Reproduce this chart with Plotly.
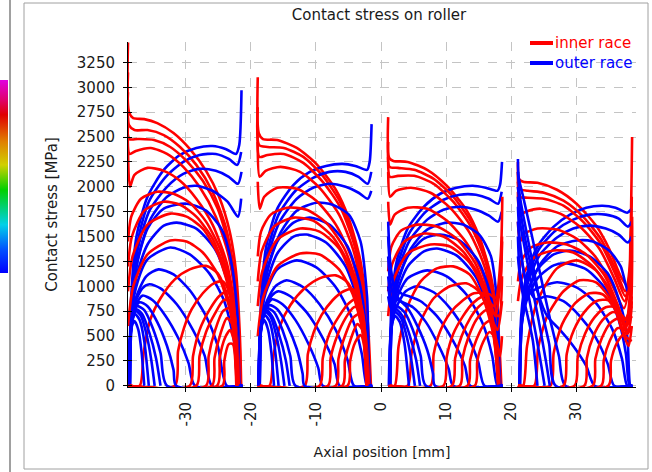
import plotly.graph_objects as go

# ---------------- data (local axial position u [mm] from roller end, stress [MPa]) -------------
roller_left = [-38.9, -18.95, 1.1, 21.05]

inner_roller1 = [
    [(0,3450),(0.15,2750),(0.8,2690),(2.5,2680),(4.5,2640),(7,2540),(9.5,2380),(12,2160),(14,1900),(15.6,1560),(16.6,1150),(17.2,500),(17.4,0)],
    [(0,3150),(0.15,2620),(1,2570),(3,2570),(5.5,2520),(8,2400),(10.5,2220),(13,1950),(15,1600),(16.3,1150),(17.1,500),(17.35,0)],
    [(0,2950),(0.2,2480),(1.5,2480),(4,2470),(6.5,2400),(9,2260),(11.5,2060),(13.8,1780),(15.6,1380),(16.8,800),(17.3,0)],
    [(0,2700),(0.25,2330),(1.2,2360),(3.5,2390),(6,2330),(8.5,2200),(11,2000),(13.5,1700),(15.5,1300),(16.7,750),(17.2,0)],
    [(0,2350),(0.3,2000),(1,2120),(3,2190),(5.5,2160),(8,2060),(10.5,1880),(13,1620),(15.2,1230),(16.6,700),(17.15,0)],
    [(0,1450),(0.5,1700),(2,1880),(4.5,1950),(7,1930),(9.5,1840),(12,1650),(14.3,1350),(15.9,950),(16.8,450),(17.1,0)],
    [(0,1200),(0.6,1500),(2.5,1760),(5.5,1850),(8,1820),(10.5,1700),(13,1480),(15,1150),(16.3,750),(17.05,0)],
    [(0,950),(0.7,1300),(3,1620),(6.5,1730),(9,1700),(11.5,1580),(13.8,1330),(15.6,950),(16.6,500),(17,0)],
    [(0,600),(0.8,1000),(3,1320),(6.5,1460),(9,1450),(11.5,1340),(13.8,1120),(15.6,780),(16.5,400),(16.95,0)],
    [(0,0),(1.8,0),(2.4,330),(3.4,660),(5,880),(7.2,1070),(9.5,1170),(12,1205),(13.8,1130),(15.3,900),(16.3,520),(16.9,0)],
    [(0,0),(7.2,0),(7.7,350),(8.6,580),(9.8,770),(11.5,930),(13.2,1030),(14.6,1050),(15.6,930),(16.4,560),(16.85,0)],
    [(0,0),(9.5,0),(10,300),(11,560),(12.5,760),(14,900),(15.3,950),(16.2,780),(16.8,0)],
    [(0,0),(10.5,0),(11,300),(12,540),(13.4,730),(14.7,860),(15.6,860),(16.4,600),(16.8,0)],
    [(0,0),(12,0),(12.4,300),(13.4,560),(14.6,750),(15.6,780),(16.3,550),(16.8,0)],
    [(0,0),(12.9,0),(13.3,280),(14.2,520),(15.2,680),(16,620),(16.75,0)],
    [(0,0),(13.7,0),(14.1,280),(14.9,480),(15.7,560),(16.3,450),(16.7,0)],
    [(0,0),(14.5,0),(14.8,250),(15.5,420),(16.1,420),(16.65,0)],
]
outer_roller1 = [
    [(0.2,0),(0.5,900),(1.3,1500),(3,1900),(5.5,2170),(8,2320),(10.5,2390),(13,2410),(15,2380),(16.6,2330),(17.1,2420),(17.45,2970)],
    [(0.3,0),(0.6,850),(1.5,1450),(3.2,1850),(5.8,2100),(8.5,2250),(11,2320),(13.5,2330),(15.5,2280),(16.8,2220),(17.4,2350)],
    [(0.3,0),(0.6,800),(1.5,1370),(3.3,1760),(6,2000),(8.5,2130),(11,2180),(13.5,2160),(15.5,2100),(16.9,2030),(17.45,2150)],
    [(0.3,0),(0.6,760),(1.6,1300),(3.5,1680),(6,1900),(8.5,1990),(10.5,2010),(13,1960),(15.3,1850),(16.9,1700),(17.4,1880)],
    [(0.2,0),(0.5,750),(1.3,1200),(3,1580),(5.5,1780),(9,1830),(12,1760),(14.5,1560),(16,1200),(16.9,650),(17.3,0),(17.6,0)],
    [(0.2,0),(0.5,700),(1.3,1100),(3,1420),(5.5,1610),(7.5,1640),(10.5,1580),(13.5,1360),(15.5,1000),(16.7,500),(17.2,0),(17.6,0)],
    [(0.2,0),(0.45,650),(1.2,980),(3,1270),(6.5,1390),(9.5,1320),(12.5,1130),(14.8,850),(16.3,450),(17,0),(17.6,0)],
    [(0.2,0),(0.45,600),(1.2,880),(2.8,1100),(4.7,1170),(7,1120),(9.5,960),(12,700),(13.8,400),(15.2,0),(17.6,0)],
    [(0.2,0),(0.45,580),(1.1,830),(2.2,980),(3.3,1020),(5,980),(7.5,820),(10,560),(11.8,300),(12.9,0),(17.6,0)],
    [(0.2,0),(0.4,550),(1,780),(2.2,906),(3.8,860),(5.8,700),(7.8,470),(9.3,230),(10.3,0),(17.6,0)],
    [(0.15,0),(0.4,520),(1,760),(1.8,840),(3,800),(4.5,640),(6,400),(7,160),(7.4,0),(17.6,0)],
    [(0.15,0),(0.35,500),(0.8,720),(1.4,800),(2.5,760),(3.8,580),(5,330),(6,0),(17.6,0)],
    [(0.15,0),(0.35,480),(0.8,700),(1.3,770),(2.2,720),(3.3,530),(4.3,280),(5,0)],
    [(0.1,0),(0.3,470),(0.7,680),(1.2,750),(2,700),(2.9,500),(3.6,250),(4.1,0)],
    [(0.1,0),(0.3,450),(0.7,660),(1.1,720),(1.8,660),(2.5,450),(3.2,0)],
    [(0.1,0),(0.3,420),(0.6,600),(1,650),(1.6,560),(2.1,330),(2.5,0)],
]

inner_roller2 = [
    [(0,3100),(0.15,2540),(0.8,2480),(3,2470),(6,2390),(9,2230),(12,1970),(14,1680),(15.8,1250),(16.9,650),(17.4,0)],
    [(0,2800),(0.2,2420),(1.5,2400),(4,2390),(7,2300),(10,2110),(12.8,1830),(15,1430),(16.5,850),(17.3,0)],
    [(0,2600),(0.25,2300),(1.5,2320),(4,2330),(7,2240),(10,2050),(12.8,1780),(15,1380),(16.5,800),(17.25,0)],
    [(0,2450),(0.3,2100),(1.2,2160),(3.5,2200),(6.5,2150),(9.5,1990),(12.5,1720),(14.8,1340),(16.4,780),(17.2,0)],
    [(0,2050),(0.3,1780),(1,1900),(3,1990),(6,1980),(9,1860),(12,1620),(14.5,1270),(16.3,720),(17.15,0)],
    [(0,1300),(0.5,1550),(2,1720),(4.5,1790),(7.5,1770),(10.5,1640),(13.3,1380),(15.3,1000),(16.6,500),(17.1,0)],
    [(0,1050),(0.6,1350),(2.5,1600),(5.5,1690),(8.5,1660),(11.5,1500),(14,1220),(15.8,820),(17.05,0)],
    [(0,800),(0.7,1150),(3,1470),(6.5,1580),(9.5,1550),(12.5,1380),(14.6,1080),(16.2,650),(17,0)],
    [(0,500),(0.8,880),(3,1200),(6.5,1330),(9.5,1320),(12.5,1170),(14.6,920),(16.2,520),(16.95,0)],
    [(0,0),(1.8,0),(2.4,300),(3.4,600),(5,810),(7.2,980),(9.5,1080),(12,1110),(13.8,1040),(15.3,830),(16.3,480),(16.9,0)],
    [(0,0),(7.2,0),(7.7,320),(8.6,540),(9.8,710),(11.5,860),(13.2,950),(14.6,970),(15.6,860),(16.4,520),(16.85,0)],
    [(0,0),(9.5,0),(10,280),(11,520),(12.5,700),(14,830),(15.3,880),(16.2,720),(16.8,0)],
    [(0,0),(10.8,0),(11.2,280),(12.2,500),(13.5,680),(14.8,790),(15.7,790),(16.4,560),(16.8,0)],
    [(0,0),(12,0),(12.4,270),(13.4,500),(14.6,680),(15.6,720),(16.3,510),(16.8,0)],
    [(0,0),(13,0),(13.4,260),(14.3,470),(15.3,620),(16,570),(16.75,0)],
    [(0,0),(13.8,0),(14.2,250),(15,440),(15.8,510),(16.3,420),(16.7,0)],
]
outer_roller2 = [
    [(0.25,0),(0.5,850),(1.3,1400),(3,1780),(5.5,2020),(8,2150),(10.5,2210),(13,2230),(15,2210),(16.8,2170),(17.2,2250),(17.5,2630)],
    [(0.3,0),(0.6,800),(1.5,1350),(3.2,1720),(5.8,1960),(8.5,2090),(11,2150),(13.5,2150),(15.5,2100),(16.9,2030),(17.45,2150)],
    [(0.3,0),(0.6,760),(1.5,1280),(3.3,1640),(6,1880),(8.5,1990),(11,2030),(13.5,2000),(15.5,1940),(16.9,1880),(17.45,1960)],
    [(0.3,0),(0.6,720),(1.6,1200),(3.5,1540),(6,1760),(9,1840),(11.5,1820),(14,1720),(15.8,1450),(16.8,900),(17.35,0),(17.6,0)],
    [(0.25,0),(0.5,700),(1.3,1100),(3,1450),(5.5,1640),(8,1690),(11,1620),(13.8,1400),(15.6,1050),(16.7,550),(17.25,0),(17.6,0)],
    [(0.25,0),(0.5,650),(1.3,1020),(3,1330),(5.5,1500),(7.5,1520),(10.5,1440),(13.5,1200),(15.5,820),(16.6,400),(17.15,0),(17.6,0)],
    [(0.2,0),(0.45,620),(1.2,930),(3,1170),(6,1260),(9,1190),(12,990),(14.5,680),(16,320),(16.8,0),(17.6,0)],
    [(0.2,0),(0.45,580),(1.2,820),(2.7,1000),(4.4,1060),(7,990),(9.5,820),(12,560),(13.8,260),(14.8,0),(17.6,0)],
    [(0.2,0),(0.45,550),(1.1,780),(2.2,910),(3.2,950),(5,900),(7.5,740),(10,480),(11.8,220),(12.6,0),(17.6,0)],
    [(0.2,0),(0.4,530),(1,750),(2.2,870),(3.8,820),(5.8,660),(7.8,420),(9.3,180),(10,0),(17.6,0)],
    [(0.15,0),(0.4,500),(1,730),(1.8,810),(3,770),(4.5,610),(6,370),(6.9,120),(7.2,0),(17.6,0)],
    [(0.15,0),(0.35,480),(0.8,700),(1.4,780),(2.5,740),(3.8,560),(5,300),(5.8,0),(17.6,0)],
    [(0.15,0),(0.35,470),(0.8,690),(1.3,760),(2.2,700),(3.3,510),(4.3,260),(4.9,0)],
    [(0.1,0),(0.3,460),(0.7,670),(1.2,740),(2,690),(2.9,490),(3.6,240),(4.1,0)],
    [(0.1,0),(0.3,440),(0.7,650),(1.1,710),(1.8,650),(2.5,440),(3.2,0)],
    [(0.1,0),(0.3,420),(0.6,600),(1,660),(1.6,560),(2.1,330),(2.5,0)],
]

inner_roller3 = [
    [(0,2700),(0.15,2290),(0.8,2260),(3,2250),(6,2170),(9,2010),(12,1770),(14,1500),(15.8,1100),(16.9,600),(17.4,0)],
    [(0,2450),(0.2,2200),(1.5,2190),(4,2170),(7,2080),(10,1900),(12.8,1640),(15,1280),(16.5,760),(17.3,0)],
    [(0,2300),(0.25,2100),(1.5,2110),(4,2110),(7,2030),(10,1850),(12.8,1590),(15,1240),(16.5,720),(17.25,0)],
    [(0,2150),(0.3,1900),(1.2,1960),(3.5,1990),(6.5,1940),(9.5,1790),(12.5,1540),(14.8,1200),(16.4,700),(17.2,0)],
    [(0,1850),(0.3,1620),(1,1720),(3,1790),(6,1780),(9,1660),(12,1440),(14.5,1130),(16.3,650),(17.15,0)],
    [(0,1150),(0.5,1400),(2,1560),(4.5,1620),(7.5,1600),(10.5,1480),(13.3,1240),(15.3,900),(16.6,450),(17.1,0)],
    [(0,950),(0.6,1220),(2.5,1450),(5.5,1530),(8.5,1500),(11.5,1350),(14,1100),(15.8,740),(17.05,0)],
    [(0,700),(0.7,1040),(3,1330),(6.5,1420),(9.5,1400),(12.5,1240),(14.6,970),(16.2,600),(17,0)],
    [(0,0),(1.0,0),(1.6,400),(3,800),(5,1050),(7.5,1180),(10,1200),(12.5,1120),(14.6,880),(16.2,500),(16.95,0)],
    [(0,0),(3.0,0),(3.6,330),(5,650),(7,880),(9.5,1000),(12,1030),(13.8,960),(15.3,780),(16.3,480),(16.9,0)],
    [(0,0),(6.5,0),(7,320),(8,550),(9.5,730),(11.5,860),(13.2,930),(14.6,930),(15.6,850),(16.5,700),(17.3,1100),(17.5,1500)],
    [(0,0),(8.5,0),(9,290),(10,520),(11.5,700),(13,830),(14.5,900),(15.6,920),(16.5,880),(17.3,1300),(17.55,1900)],
    [(0,0),(9.8,0),(10.3,280),(11.3,500),(12.7,690),(14,800),(15.3,850),(16.3,800),(17.2,1000),(17.5,1450)],
    [(0,0),(11,0),(11.4,270),(12.4,500),(13.6,670),(15,760),(16,740),(17,700),(17.5,1100)],
    [(0,0),(12.2,0),(12.6,260),(13.6,470),(14.8,620),(15.9,660),(16.8,560),(17.5,850)],
    [(0,0),(13.3,0),(13.7,250),(14.6,440),(15.6,540),(16.5,480),(17.2,300),(17.5,500)],
]
outer_roller3 = [
    [(0.25,0),(0.5,800),(1.3,1250),(3,1580),(5.5,1800),(8,1930),(10.5,1990),(13,2010),(15,1990),(16.8,1960),(17.2,2020),(17.5,2250)],
    [(0.3,0),(0.6,760),(1.5,1220),(3.2,1530),(5.8,1750),(8.5,1870),(11,1920),(13.5,1920),(15.5,1880),(16.9,1830),(17.45,1950)],
    [(0.3,0),(0.6,720),(1.5,1150),(3.3,1460),(6,1670),(8.5,1770),(11,1800),(13.5,1770),(15.5,1710),(16.9,1650),(17.45,1750)],
    [(0.3,0),(0.6,680),(1.6,1080),(3.5,1380),(6,1570),(9,1640),(11.5,1620),(14,1520),(15.8,1300),(16.8,800),(17.35,0),(17.6,0)],
    [(0.25,0),(0.5,650),(1.3,1000),(3,1300),(5.5,1480),(8,1520),(11,1460),(13.8,1260),(15.6,950),(16.7,500),(17.25,0),(17.6,0)],
    [(0.25,0),(0.5,620),(1.3,930),(3,1200),(5.5,1350),(7.5,1380),(10.5,1310),(13.5,1090),(15.5,740),(16.6,360),(17.15,0),(17.6,0)],
    [(0.2,0),(0.45,580),(1.2,860),(3,1080),(6,1160),(9,1100),(12,920),(14.5,630),(16,300),(16.8,0),(17.6,0)],
    [(0.2,0),(0.45,550),(1.2,780),(2.7,950),(4.4,1000),(7,940),(9.5,780),(12,530),(13.8,250),(14.8,0),(17.6,0)],
    [(0,1500),(0.3,1200),(1,1000),(2.2,920),(3.2,900),(5,850),(7.5,700),(10,450),(11.8,200),(12.6,0),(17.6,0)],
    [(0,1300),(0.3,1050),(1,880),(2.2,840),(3.8,790),(5.8,640),(7.8,400),(9.3,170),(10,0),(17.6,0)],
    [(0,1650),(0.3,1250),(1,950),(1.8,860),(3,780),(4.5,600),(6,360),(6.9,120),(7.2,0),(17.6,0)],
    [(0,1100),(0.35,900),(0.8,820),(1.4,800),(2.5,740),(3.8,560),(5,300),(5.8,0),(17.6,0)],
    [(0,1000),(0.35,850),(0.8,790),(1.3,770),(2.2,700),(3.3,510),(4.3,260),(4.9,0)],
    [(0,900),(0.3,800),(0.7,760),(1.2,740),(2,680),(2.9,480),(3.6,240),(4.1,0)],
    [(0.1,0),(0.3,450),(0.7,650),(1.1,700),(1.8,640),(2.5,430),(3.2,0)],
]

inner_roller4 = [
    [(0,2250),(0.15,2080),(0.8,2050),(3,2040),(6,1970),(9,1830),(12,1610),(14,1380),(15.8,1100),(16.9,1000),(17.3,1500),(17.55,2500)],
    [(0,2150),(0.2,1980),(1.5,1960),(4,1940),(7,1860),(10,1700),(12.8,1470),(15,1170),(16.5,950),(17.2,1200),(17.5,1900)],
    [(0,2050),(0.25,1900),(1.5,1890),(4,1880),(7,1810),(10,1650),(12.8,1420),(15,1120),(16.5,900),(17.2,1050),(17.5,1600)],
    [(0,1950),(0.3,1720),(1.2,1750),(3.5,1780),(6.5,1730),(9.5,1600),(12.5,1380),(14.8,1080),(16.4,850),(17.5,1350)],
    [(0,1650),(0.3,1450),(1,1530),(3,1580),(6,1570),(9,1480),(12,1290),(14.5,1010),(16.3,780),(17.5,1200)],
    [(0,1050),(0.5,1250),(2,1390),(4.5,1440),(7.5,1420),(10.5,1320),(13.3,1110),(15.3,820),(16.6,600),(17.5,1000)],
    [(0,850),(0.6,1090),(2.5,1290),(5.5,1360),(8.5,1340),(11.5,1200),(14,980),(15.8,700),(17,550),(17.5,850)],
    [(0,0),(0.8,0),(1.4,400),(3,850),(6,1180),(9,1260),(12,1160),(14.6,870),(16.2,560),(17.5,700)],
    [(0,0),(2.5,0),(3.1,380),(4.5,700),(7,950),(9.5,1060),(12,1040),(14.6,830),(16.2,520),(17,400),(17.5,600)],
    [(0,0),(5,0),(5.5,330),(6.8,620),(8.8,830),(11,930),(13,920),(15,760),(16.5,500),(17.5,450)],
    [(0,0),(7.0,0),(7.5,320),(8.6,560),(10.2,740),(12,850),(14,860),(15.6,720),(16.8,520),(17.5,600)],
    [(0,0),(8.7,0),(9.2,290),(10.3,520),(11.8,690),(13.5,790),(15,790),(16.3,660),(17.5,800)],
    [(0,0),(10.2,0),(10.6,280),(11.6,500),(13,660),(14.5,740),(15.8,720),(16.8,650),(17.5,900)],
    [(0,0),(11.5,0),(11.9,270),(12.9,480),(14.2,630),(15.5,680),(16.6,620),(17.5,1100)],
    [(0,0),(12.8,0),(13.2,260),(14.1,450),(15.3,580),(16.4,580),(17.5,1300)],
    [(0,0),(13.9,0),(14.3,250),(15.2,430),(16.2,520),(17,560),(17.55,1700)],
]
outer_roller4 = [
    [(0.25,0),(0.5,700),(1.3,1100),(3,1400),(5.5,1600),(8,1720),(10.5,1790),(13,1810),(15,1790),(16.8,1740),(17.5,1780)],
    [(0.3,0),(0.6,680),(1.5,1080),(3.2,1370),(5.8,1560),(8.5,1670),(11,1720),(13.5,1720),(15.5,1680),(16.9,1600),(17.5,1650)],
    [(0.3,0),(0.6,650),(1.5,1030),(3.3,1310),(6,1490),(8.5,1580),(11,1610),(13.5,1580),(15.5,1520),(16.9,1440),(17.5,1500)],
    [(0.3,0),(0.6,620),(1.6,960),(3.5,1230),(6,1400),(9,1460),(11.5,1450),(14,1360),(15.8,1200),(16.9,950),(17.5,1100)],
    [(0.25,0),(0.5,600),(1.3,900),(3,1170),(5.5,1320),(8,1360),(11,1300),(13.8,1130),(15.6,850),(16.8,500),(17.3,0),(17.6,0)],
    [(0.25,0),(0.5,580),(1.3,850),(3,1080),(5.5,1210),(7.5,1230),(10.5,1170),(13.5,970),(15.5,660),(16.6,320),(17.15,0),(17.6,0)],
    [(0,1500),(0.3,1150),(1.2,920),(3,980),(6,1040),(9,990),(12,830),(14.5,570),(16,270),(16.8,0),(17.6,0)],
    [(0,1800),(0.3,1450),(1.2,1050),(2.7,870),(4.4,900),(7,850),(9.5,700),(12,480),(13.8,220),(14.8,0),(17.6,0)],
    [(0,2000),(0.4,1750),(1.5,1350),(3,950),(4.5,700),(6.5,560),(8.5,400),(10.5,200),(11.8,0),(17.6,0)],
    [(0,2280),(0.1,2100),(0.8,1900),(2,1550),(3.5,1100),(5,650),(6.3,300),(7.3,0),(17.6,0)],
    [(0,2150),(0.3,1900),(1,1650),(2.2,1250),(3.5,800),(4.8,420),(5.8,0),(17.6,0)],
    [(0,1900),(0.3,1650),(1,1400),(2,1050),(3.2,650),(4.3,250),(4.9,0)],
    [(0,1650),(0.3,1400),(0.9,1150),(1.8,850),(2.8,500),(3.6,200),(4.1,0)],
    [(0,1300),(0.3,1100),(0.8,900),(1.5,700),(2.3,450),(3,0)],
]

inner_rollers = [inner_roller1, inner_roller2, inner_roller3, inner_roller4]
outer_rollers = [outer_roller1, outer_roller2, outer_roller3, outer_roller4]

x_ticks = [-30, -20, -10, 0, 10, 20, 30]
x_tick_text = ["-30", "-20", "-10", "0", "10", "20", "30"]
x_range = [-38.9, 39.2]
y_range = [-12, 3455]
legend_names = ["inner race", "outer race"]

RED = "#ff0000"
BLUE = "#0000ff"
FONT = "DejaVu Sans"
TXT = "#1a1a1a"

# plot area in pixels (for paper-coordinate decorations)
PL, PR, PT, PB = 128, 636, 42, 387
def px(xp):
    return (xp - PL) / (PR - PL)
def py(yp):
    return (PB - yp) / (PB - PT)

# ---------------- figure ----------------
fig = go.Figure()

for left, inner, outer in zip(roller_left, inner_rollers, outer_rollers):
    n = max(len(inner), len(outer))
    for i in range(n):
        for curves, color, name in ((inner, RED, legend_names[0]), (outer, BLUE, legend_names[1])):
            if i < len(curves):
                pts = curves[i]
                fig.add_trace(go.Scatter(
                    x=[left + u for u, _ in pts], y=[v for _, v in pts], name=name,
                    mode="lines", line=dict(color=color, width=2.6, shape="spline", smoothing=0.7),
                    showlegend=False, hoverinfo="skip"))

# colour bar strip of the neighbouring panel
fig.add_trace(go.Scatter(
    x=[None], y=[None], mode="markers", showlegend=False, hoverinfo="skip",
    marker=dict(color=[0], cmin=0, cmax=1, showscale=True,
                colorscale=[[0, "#0000ff"], [0.12, "#0050ff"], [0.25, "#00d0e8"], [0.43, "#00d000"],
                            [0.56, "#d0d000"], [0.68, "#e08000"], [0.82, "#e00000"], [0.9, "#e00070"],
                            [1, "#e000e0"]],
                colorbar=dict(x=px(0), xanchor="left", xpad=0, thickness=8, thicknessmode="pixels",
                              len=193, lenmode="pixels", y=py(176.5), yanchor="middle", ypad=0,
                              outlinewidth=0, showticklabels=False, ticks=""))))

# overlay axes to give ticks on the inner side as well
fig.add_trace(go.Scatter(x=[None], y=[None], xaxis="x2", yaxis="y2", showlegend=False, hoverinfo="skip"))

axis_common = dict(showline=True, linecolor="black", linewidth=1, ticks="outside", ticklen=4,
                   tickcolor="black", showgrid=True, gridcolor="#c4c4c4", griddash="dash",
                   gridwidth=1, zeroline=False, tickfont=dict(family=FONT, size=15, color=TXT))

# legend drawn as line samples + coloured labels
legend_shapes = []
legend_annotations = []
for k, (name, color) in enumerate(zip(legend_names, (RED, BLUE))):
    yy = py(43 + 20 * k)
    legend_shapes.append(dict(type="line", xref="paper", yref="paper", x0=px(530), x1=px(553),
                              y0=yy, y1=yy, line=dict(color=color, width=4)))
    legend_annotations.append(dict(text=name, xref="paper", yref="paper", x=px(553), y=yy,
                                   xanchor="left", yanchor="middle", showarrow=False,
                                   font=dict(family=FONT, size=15, color=color)))

fig.update_layout(
    width=652, height=472,
    margin=dict(l=PL, r=652 - PR, t=PT, b=472 - PB, autoexpand=False),
    paper_bgcolor="white", plot_bgcolor="white",
    font=dict(family=FONT, size=15, color=TXT),
    showlegend=False,
    title=dict(text="Contact stress on roller", x=px(379), xref="paper", xanchor="center",
               y=1 - 15 / 472, yref="container", yanchor="middle",
               font=dict(family=FONT, size=15, color=TXT)),
    xaxis=dict(range=x_range, tickvals=x_ticks, ticktext=x_tick_text, tickangle=-90, ticklabelstandoff=4,
               title=dict(text="Axial position [mm]", standoff=21, font=dict(family=FONT, size=14, color=TXT)),
               **axis_common),
    yaxis=dict(range=y_range, tick0=0, dtick=250, ticklabelstandoff=5,
               title=dict(text="Contact stress [MPa]", standoff=15, font=dict(family=FONT, size=15, color=TXT)),
               **axis_common),
    xaxis2=dict(overlaying="x", matches="x", anchor="y2", ticks="inside", ticklen=4, tickcolor="black",
                tickvals=x_ticks, showticklabels=False, showgrid=False, zeroline=False, showline=False),
    yaxis2=dict(overlaying="y", matches="y", anchor="x2", ticks="inside", ticklen=4, tickcolor="black",
                tick0=0, dtick=250, showticklabels=False, showgrid=False, zeroline=False, showline=False),
    annotations=legend_annotations,
    shapes=[
        dict(type="rect", xref="paper", yref="paper", x0=px(24), x1=px(648), y0=py(469), y1=py(3),
             line=dict(color="#a0a0a0", width=1), layer="below"),
        dict(type="line", xref="paper", yref="paper", x0=px(10), x1=px(10), y0=py(472), y1=py(0),
             line=dict(color="#a0a0a0", width=2), layer="below"),
    ] + legend_shapes,
)

fig.write_html("out.html", config={"displayModeBar": False, "staticPlot": True},
               post_script="document.body.style.margin='0';document.body.style.overflow='hidden';")
